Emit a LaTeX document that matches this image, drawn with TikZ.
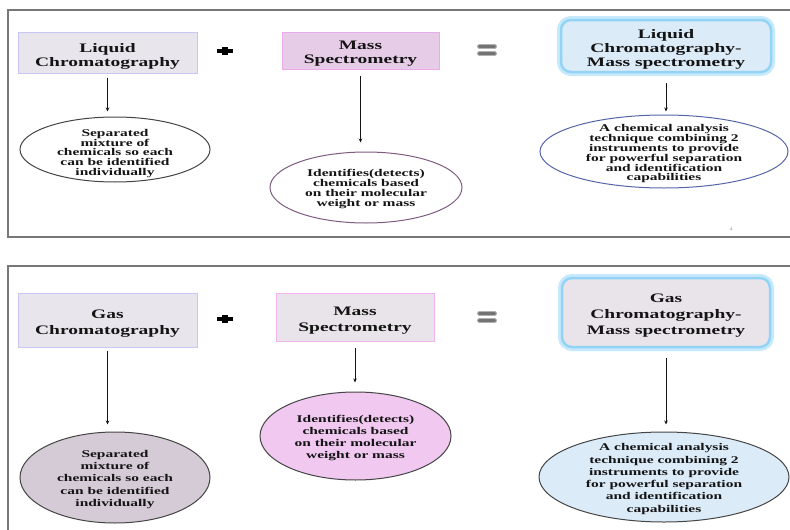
\documentclass[tikz,border=0pt]{standalone}
\usepackage{fontspec}
\newfontfamily\lbf{Liberation Serif}[FakeStretch=1.5]
\usetikzlibrary{shapes.geometric,arrows.meta}
\definecolor{txt}{HTML}{141414}
\definecolor{framegray}{HTML}{777777}
\definecolor{lcfill}{HTML}{E9E5EC}
\definecolor{lcdraw}{HTML}{C8C6F4}
\definecolor{msfill}{HTML}{E6CCE6}
\definecolor{msdraw}{HTML}{E9ABE9}
\definecolor{ms2fill}{HTML}{E9E4E9}
\definecolor{ms2draw}{HTML}{F0B4F0}
\definecolor{bluefill}{HTML}{DCEBF8}
\definecolor{grayfill}{HTML}{E9E4EA}
\definecolor{glowA}{HTML}{C6E9FB}
\definecolor{glowB}{HTML}{93D4F6}
\definecolor{e2draw}{HTML}{7E5C80}
\definecolor{e3draw}{HTML}{5566A8}
\definecolor{e4fill}{HTML}{D5CBD6}
\definecolor{e5fill}{HTML}{F0C8F0}
\definecolor{edark}{HTML}{454545}
\begin{document}
\begin{tikzpicture}[x=1pt,y=-1pt,
  btxtA/.style={align=center, inner sep=0pt, text=txt, yshift=-3.5pt, font=\lbf\bfseries\fontsize{13}{14}\selectfont},
  btxtB/.style={align=center, inner sep=0pt, text=txt, yshift=-3.5pt, font=\lbf\bfseries\fontsize{13}{16}\selectfont},
  etxtA/.style={align=center, inner sep=0pt, text=txt, yshift=-2.5pt, font=\lbf\bfseries\fontsize{10.3}{9.8}\selectfont},
  etxtB/.style={align=center, inner sep=0pt, text=txt, yshift=-2pt, font=\lbf\bfseries\fontsize{10.3}{12.3}\selectfont},
  lcbox/.style={draw=lcdraw, fill=lcfill, line width=1pt, inner sep=0pt},
  msbox/.style={draw=msdraw, fill=msfill, line width=1pt, inner sep=0pt},
  ms2box/.style={draw=ms2draw, fill=ms2fill, line width=1pt, inner sep=0pt},
  glowbox/.style={draw=glowB, line width=2.5pt, rounded corners=10pt, inner sep=0pt,
     preaction={draw=glowA, line width=8pt}},
  ell/.style={ellipse, draw=edark, line width=1pt, inner sep=0pt},
  arr/.style={draw=txt, line width=0.9pt, -{Stealth[length=4pt,width=3.5pt]}},
  framel/.style={draw=framegray, line width=1.5pt},
  eqbar/.style={fill=black!55, draw=black!30, line width=0.8pt, rounded corners=1.5pt}
]
\useasboundingbox (0,0) rectangle (790,530);
\fill[white] (0,0) rectangle (790,530);

% frames
\draw[framel] (791,10) -- (8,10) -- (8,237) -- (791,237);
\draw[framel] (791,266) -- (8,266) -- (8,531);

% ---------- top panel ----------
\node[lcbox, minimum width=179pt, minimum height=41pt] (lc) at (107.5,52.5) {};
\node[btxtA] (lct) at (lc) {Liquid\\Chromatography};
\node[msbox, minimum width=157pt, minimum height=37pt] (ms) at (360.5,50.5) {};
\node[btxtA] (mst) at (ms) {Mass\\Spectrometry};
\node[glowbox, fill=bluefill, minimum width=210pt, minimum height=52pt] (lcms) at (666,46) {};
\node[btxtA] (lcmst) at (lcms) {Liquid\\Chromatography-\\Mass spectrometry};

\node[ell, fill=white, minimum width=190pt, minimum height=65pt] (e1) at (115,149.5) {};
\node[etxtA, yshift=-1.5pt] (e1t) at (e1) {Separated\\mixture of\\chemicals so each\\can be identified\\individually};
\node[ell, draw=e2draw, fill=white, minimum width=192pt, minimum height=71pt] (e2) at (366,187.5) {};
\node[etxtA, yshift=1pt] (e2t) at (e2) {Identifies(detects)\\chemicals based\\on their molecular\\weight or mass};
\node[ell, draw=e3draw, fill=white, minimum width=248pt, minimum height=73pt] (e3) at (664,151.5) {};
\node[etxtA] (e3t) at (e3) {A chemical analysis\\technique combining 2\\instruments to provide\\for powerful separation\\and identification\\capabilities};

\draw[arr, shorten <=4pt, shorten >=5pt] (lc.south) -- (lc.south |- e1.north);
\draw[arr, shorten <=6pt, shorten >=9pt] (ms.south) -- (ms.south |- e2.north);
\draw[arr, shorten <=10pt, shorten >=3pt] (lcms.south) -- (lcms.south |- e3.north);

% plus / equals top
\coordinate (p1) at (225,51);
\fill[black] ([shift={(-8,-1.8)}]p1) rectangle ([shift={(8,1.8)}]p1);
\fill[black] ([shift={(-2.8,-4)}]p1) rectangle ([shift={(2.8,4)}]p1);
\coordinate (q1) at (487,50);
\path[eqbar] ([shift={(-9.5,-5.5)}]q1) rectangle ([shift={(9.5,-1.5)}]q1);
\path[eqbar] ([shift={(-9.5,1.5)}]q1) rectangle ([shift={(9.5,5.5)}]q1);

\node[inner sep=0pt, text=black!45, font=\lbf\fontsize{4}{4}\selectfont] (pg) at (731,229) {4};

% ---------- bottom panel ----------
\node[lcbox, minimum width=179pt, minimum height=54pt] (gc) at (107.5,320) {};
\node[btxtB] (gct) at (gc) {Gas\\Chromatography};
\node[ms2box, minimum width=158pt, minimum height=48pt] (ms2) at (355,317) {};
\node[btxtB] (ms2t) at (ms2) {Mass\\Spectrometry};
\node[glowbox, fill=grayfill, minimum width=208pt, minimum height=69pt] (gcms) at (666,312.5) {};
\node[btxtB] (gcmst) at (gcms) {Gas\\Chromatography-\\Mass spectrometry};

\node[ell, fill=e4fill, minimum width=190pt, minimum height=91pt] (e4) at (115,477.5) {};
\node[etxtB] (e4t) at (e4) {Separated\\mixture of\\chemicals so each\\can be identified\\individually};
\node[ell, fill=e5fill, minimum width=191pt, minimum height=88pt] (e5) at (355.5,436) {};
\node[etxtB] (e5t) at (e5) {Identifies(detects)\\chemicals based\\on their molecular\\weight or mass};
\node[ell, fill=bluefill, minimum width=250pt, minimum height=90pt] (e6) at (664,477) {};
\node[etxtB] (e6t) at (e6) {A chemical analysis\\technique combining 2\\instruments to provide\\for powerful separation\\and identification\\capabilities};

\draw[arr, shorten <=3pt, shorten >=7pt] (gc.south) -- (gc.south |- e4.north);
\draw[arr, shorten <=6pt, shorten >=9pt] (ms2.south) -- (ms2.south |- e5.north);
\draw[arr, shorten <=10pt, shorten >=7pt] (gcms.south) -- (gcms.south |- e6.north);

\coordinate (p2) at (225,319);
\fill[black] ([shift={(-8,-1.8)}]p2) rectangle ([shift={(8,1.8)}]p2);
\fill[black] ([shift={(-2.8,-4)}]p2) rectangle ([shift={(2.8,4)}]p2);
\coordinate (q2) at (487,317);
\path[eqbar] ([shift={(-9.5,-5.5)}]q2) rectangle ([shift={(9.5,-1.5)}]q2);
\path[eqbar] ([shift={(-9.5,1.5)}]q2) rectangle ([shift={(9.5,5.5)}]q2);
\end{tikzpicture}
\end{document}
